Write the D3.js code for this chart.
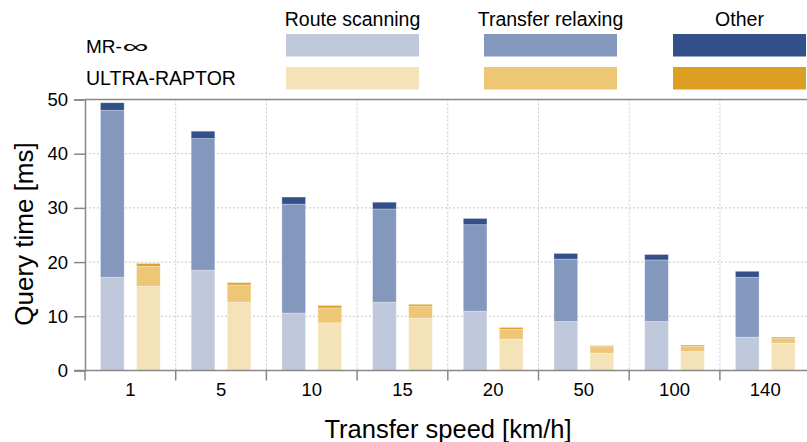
<!DOCTYPE html>
<html><head><meta charset="utf-8">
<script src="https://cdn.jsdelivr.net/npm/d3@7"></script>
<style>body{margin:0;background:#fff}svg{display:block;font-family:"Liberation Sans",Arial,sans-serif}</style>
</head><body>
<script>
const categories = ["1","5","10","15","20","50","100","140"];
const components = ["Route scanning","Transfer relaxing","Other"];
const methods = ["MR-∞","ULTRA-RAPTOR"];
const mrRoute    = [17.2,18.5,10.6,12.6,10.95,9.05,9.05,6.15];
const mrTransfer = [30.8,24.3,20.1,17.2,15.95,11.5,11.35,11.05];
const mrOther    = [1.4,1.35,1.3,1.25,1.15,1.05,1.0,1.1];
const urRoute    = [15.55,12.6,8.8,9.65,5.8,3.2,3.5,5.05];
const urTransfer = [3.7,3.2,2.75,2.25,1.8,1.3,0.93,0.85];
const urOther    = [0.5,0.4,0.45,0.3,0.35,0.1,0.25,0.25];
const yTicks = [0,10,20,30,40,50];
const colors = {
  "MR-∞": ["#c0c9dc","#8497bd","#34508a"],
  "ULTRA-RAPTOR": ["#f4e2b8","#edc676","#dc9f22"]
};
const seriesData = {
  "MR-∞": [mrRoute, mrTransfer, mrOther],
  "ULTRA-RAPTOR": [urRoute, urTransfer, urOther]
};

(function(){
const W=807,H=442;
const svg=d3.select("body").append("svg").attr("width",W).attr("height",H);
const pL=85, pT=99.5, pB=370.5, groupW=90.7;
const x=d3.scaleBand().domain(categories).range([pL,pL+groupW*categories.length]).padding(0);
const xm=d3.scaleBand().domain(methods).range([0,groupW]).paddingInner(0.344).paddingOuter(0.43);
const y=d3.scaleLinear().domain([0,50]).range([pB,pT]);

// grid
const grid=svg.append("g");
grid.selectAll("line.h").data(yTicks.filter(d=>d>0&&d<50)).join("line").attr("class","h")
  .attr("x1",pL).attr("x2",W).attr("y1",d=>y(d)).attr("y2",d=>y(d))
  .attr("stroke","#c8c8c8").attr("stroke-width",1).attr("stroke-dasharray","2,2");
grid.selectAll("line.v").data(categories.slice(1)).join("line").attr("class","v")
  .attr("x1",d=>x(d)).attr("x2",d=>x(d)).attr("y1",pT).attr("y2",pB)
  .attr("stroke","#c8c8c8").attr("stroke-width",1).attr("stroke-dasharray","2,2");

// bars
methods.forEach(m=>{
  const stackRows=categories.map((c,i)=>({cat:c,a:seriesData[m][0][i],b:seriesData[m][1][i],c2:seriesData[m][2][i]}));
  const stack=d3.stack().keys(["a","b","c2"])(stackRows);
  stack.forEach((layer,k)=>{
    svg.append("g").selectAll("rect").data(layer).join("rect")
      .attr("x",d=>x(d.data.cat)+xm(m))
      .attr("width",xm.bandwidth())
      .attr("y",d=>y(d[1]))
      .attr("height",d=>y(d[0])-y(d[1]))
      .attr("fill",colors[m][k])
      .attr("stroke","#ffffff").attr("stroke-opacity",0.35).attr("stroke-width",0.8);
  });
});

// frame top
svg.append("line").attr("x1",pL).attr("x2",W).attr("y1",pT).attr("y2",pT)
  .attr("stroke","#888").attr("stroke-width",1.5);

// y axis
const yAxis=svg.append("g").attr("transform",`translate(${pL},0)`)
  .call(d3.axisLeft(y).tickValues(yTicks).tickSize(11).tickPadding(6));
yAxis.select(".domain").attr("stroke","#888").attr("stroke-width",1.5);
yAxis.selectAll(".tick line").attr("stroke","#888").attr("stroke-width",1.5);
yAxis.selectAll("text").attr("font-size",18.5).attr("fill","#000").attr("font-family","Liberation Sans, Arial, sans-serif");

// x axis
const xg=svg.append("g");
xg.append("line").attr("x1",pL-11).attr("x2",W).attr("y1",pB).attr("y2",pB)
  .attr("stroke","#888").attr("stroke-width",1.5);
xg.selectAll("line.t").data(categories).join("line").attr("class","t")
  .attr("x1",d=>x(d)).attr("x2",d=>x(d)).attr("y1",pB).attr("y2",pB+10)
  .attr("stroke","#888").attr("stroke-width",1.5);
xg.selectAll("text").data(categories).join("text")
  .attr("x",d=>x(d)+x.bandwidth()/2).attr("y",396)
  .attr("text-anchor","middle").attr("font-size",18.5).text(d=>d);

// axis titles
svg.append("text").attr("x",448).attr("y",438).attr("text-anchor","middle")
  .attr("font-size",25.5).text("Transfer speed [km/h]");
svg.append("text").attr("transform","translate(33,234) rotate(-90)").attr("text-anchor","middle")
  .attr("font-size",26).text("Query time [ms]");

// legend
const legX=[286,484,673], legW=133;
components.forEach((c,i)=>{
  svg.append("text").attr("x",legX[i]+legW/2).attr("y",26).attr("text-anchor","middle")
    .attr("font-size",19.5).text(c);
});
methods.forEach((m,j)=>{
  const yy=[34,67][j];
  const baseY=[52.5,85][j];
  if (m.endsWith("∞")) {
    const t=svg.append("text").attr("x",86).attr("y",baseY).attr("font-size",19).text(m.slice(0,-1));
    const w=t.node().getComputedTextLength();
    svg.append("text").attr("x",86+w+0.5).attr("y",baseY).attr("font-size",19)
      .attr("textLength",26).attr("lengthAdjust","spacingAndGlyphs").text("∞");
  } else {
    svg.append("text").attr("x",86).attr("y",baseY).attr("font-size",19.5).text(m);
  }
  components.forEach((c,i)=>{
    svg.append("rect").attr("x",legX[i]).attr("y",yy).attr("width",legW).attr("height",22.5)
      .attr("fill",colors[m][i]);
  });
});
})();
</script>
</body></html>
